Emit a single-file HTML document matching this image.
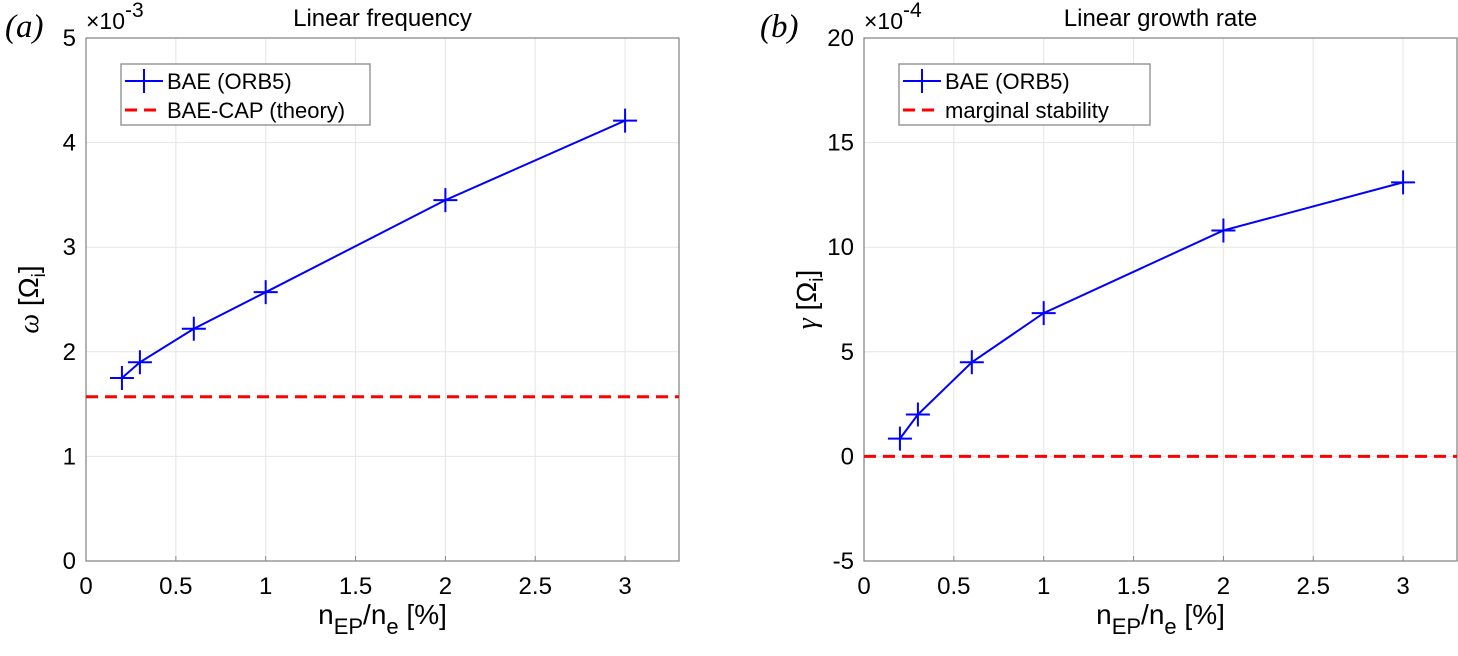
<!DOCTYPE html>
<html><head><meta charset="utf-8"><style>
body{margin:0;background:#fff;width:1458px;height:651px;overflow:hidden}
svg text{font-family:"Liberation Sans",sans-serif;fill:#000}
svg .serif{font-family:"Liberation Serif",serif;font-style:italic}
</style></head><body>
<svg id="s" width="1458" height="651"></svg>
<script>
const xVals=[0.2,0.3,0.6,1,2,3];
const freqVals=[1.75,1.9,2.22,2.57,3.45,4.21];
const capVal=1.57;
const growthVals=[0.85,2.0,4.5,6.85,10.8,13.1];
const marginalVal=0;
const xTicks=[0,0.5,1,1.5,2,2.5,3];
const yTicksA=[0,1,2,3,4,5];
const yTicksB=[-5,0,5,10,15,20];
const NS='http://www.w3.org/2000/svg';
const svg=document.getElementById('s');
function el(t,a,p){const e=document.createElementNS(NS,t);for(const k in a)e.setAttribute(k,a[k]);(p||svg).appendChild(e);return e;}
function panel(o){
 const g=el('g',{});
 
 
 const X=v=>o.x0+(v-0)*(o.x1-o.x0)/3.3;
 const Y=v=>o.y1-(v-o.ymin)*(o.y1-o.y0)/(o.ymax-o.ymin);
 xTicks.forEach(t=>{el('line',{x1:X(t),x2:X(t),y1:o.y0,y2:o.y1,stroke:'#e6e6e6'},g);
  const tx=el('text',{x:X(t),y:o.y1+33,'font-size':24,'text-anchor':'middle'},g);tx.textContent=t;
  });
 o.yt.forEach(t=>{el('line',{x1:o.x0,x2:o.x1,y1:Y(t),y2:Y(t),stroke:'#e6e6e6'},g);
  const tx=el('text',{x:o.x0-10,y:Y(t)+8,'font-size':24,'text-anchor':'end'},g);tx.textContent=t;
  });
 el('rect',{x:o.x0,y:o.y0,width:o.x1-o.x0,height:o.y1-o.y0,fill:'none',stroke:'#888','stroke-width':1.3},g);
 xTicks.forEach(t=>{el('line',{x1:X(t),x2:X(t),y1:o.y1,y2:o.y1-5,stroke:'#888'},g);});
 const hl=el('line',{x1:o.x0,x2:o.x1,y1:Y(o.h),y2:Y(o.h),stroke:'#f00','stroke-width':3,'stroke-dasharray':'12 7'},g);
 
 const pl=el('polyline',{points:xVals.map((x,i)=>X(x)+','+Y(o.v[i])).join(' '),fill:'none',stroke:'#00f','stroke-width':2},g);
 
 xVals.forEach((x,i)=>{const m=el('path',{d:`M${X(x)-12},${Y(o.v[i])}h24M${X(x)},${Y(o.v[i])-12}v24`,stroke:'#00f','stroke-width':2},g);
  });
 const ttl=el('text',{x:(o.x0+o.x1)/2,y:26,'font-size':24,'text-anchor':'middle'},g);ttl.textContent=o.title;
 
 const ex=el('text',{x:o.x0,y:29,'font-size':23},g);ex.innerHTML='×10<tspan dy="-12" font-size="21">'+o.exp+'</tspan>';
 
 const pt=el('text',{x:o.px,y:37,'font-size':33,'class':'serif'},g);pt.textContent=o.plab;
 
 const xl=el('text',{x:(o.x0+o.x1)/2,y:624,'font-size':28,'text-anchor':'middle'},g);
 xl.innerHTML='n<tspan dy="10" font-size="22">EP</tspan><tspan dy="-10">/n</tspan><tspan dy="10" font-size="22">e</tspan><tspan dy="-10"> [%]</tspan>';
 
 const yl=el('text',{transform:`translate(${o.x0-48},${(o.y0+o.y1)/2}) rotate(-90)`,'font-size':28,'text-anchor':'middle'},g);
 yl.innerHTML='<tspan class="serif">'+o.sym+'</tspan> [Ω<tspan dy="7" font-size="19">i</tspan><tspan dy="-7">]</tspan>';
 
 const lg=el('g',{},g);
 const lx=o.x0+35;
 el('rect',{x:lx,y:64,width:o.lw,height:61,fill:'#fff',stroke:'#888','stroke-width':1.3},lg);
 el('path',{d:`M${lx+4},${81}h38M${lx+23},69v24`,stroke:'#00f','stroke-width':2},lg);
 el('line',{x1:lx+4,x2:lx+42,y1:110,y2:110,stroke:'#f00','stroke-width':3,'stroke-dasharray':'12 7'},lg);
 const t1=el('text',{x:lx+46,y:89,'font-size':22},lg);t1.textContent='BAE (ORB5)';
 const t2=el('text',{x:lx+46,y:118,'font-size':22},lg);t2.textContent=o.l2;
}
panel({name:'panel-a',x0:86,x1:679,y0:38,y1:561,ymin:0,ymax:5,yt:yTicksA,v:freqVals,h:capVal,title:'Linear frequency',exp:'-3',px:5,plab:'(a)',sym:'ω',l2:'BAE-CAP (theory)',lw:249});
panel({name:'panel-b',x0:864,x1:1457,y0:38,y1:561,ymin:-5,ymax:20,yt:yTicksB,v:growthVals,h:marginalVal,title:'Linear growth rate',exp:'-4',px:760,plab:'(b)',sym:'γ',l2:'marginal stability',lw:251});
</script>
</body></html>
